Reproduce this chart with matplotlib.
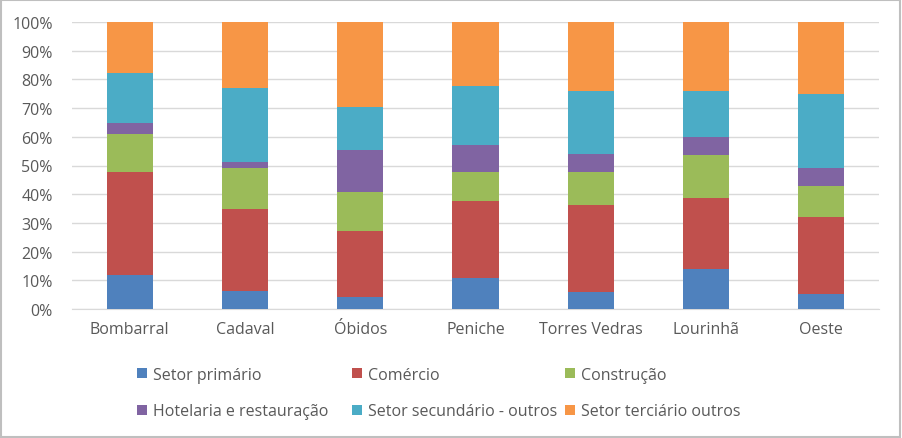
import numpy as np
import matplotlib.pyplot as plt
from matplotlib.patches import Rectangle
from matplotlib.ticker import PercentFormatter

plt.rcParams['font.family'] = ['Open Sans', 'DejaVu Sans']

# Dados (percentagens por setor)
concelhos = ['Bombarral', 'Cadaval', 'Óbidos', 'Peniche', 'Torres Vedras', 'Lourinhã', 'Oeste']
setor_primario = [11.9, 6.3, 4.3, 10.9, 6.0, 14.1, 5.3]
comercio = [36.0, 28.4, 23.0, 26.9, 30.4, 24.6, 26.8]
construcao = [13.1, 14.5, 13.5, 9.8, 11.5, 15.1, 10.8]
hotelaria = [3.9, 2.1, 14.7, 9.6, 6.2, 6.0, 6.3]
secundario_outros = [17.4, 25.8, 15.0, 20.6, 21.7, 16.0, 25.8]
terciario_outros = [17.7, 22.9, 29.5, 22.2, 24.2, 24.2, 25.0]

series = [
    ('Setor primário', setor_primario, '#4F81BD'),
    ('Comércio', comercio, '#C0504D'),
    ('Construção', construcao, '#9BBB59'),
    ('Hotelaria e restauração', hotelaria, '#8064A2'),
    ('Setor secundário - outros', secundario_outros, '#4BACC6'),
    ('Setor terciário outros', terciario_outros, '#F79646'),
]

W, H = 902, 439
fig = plt.figure(figsize=(W / 100, H / 100), dpi=100)
ax = fig.add_axes([72 / W, 1 - 310 / H, 807 / W, 287 / H])

x = np.arange(len(concelhos))
base = np.zeros(len(concelhos))
handles = []
for nome, vals, cor in series:
    vals = np.array(vals)
    b = ax.bar(x, vals, 0.4, bottom=base, color=cor, label=nome, zorder=3)
    handles.append(b)
    base += vals

ax.set_xlim(-0.5, len(concelhos) - 0.5)
ax.set_ylim(0, 100)
ax.set_yticks(np.arange(0, 101, 10))
ax.yaxis.set_major_formatter(PercentFormatter(decimals=0))
ax.set_xticks(x)
ax.set_xticklabels(concelhos)
ax.tick_params(axis='both', length=0, labelsize=11.5, colors='#595959')
ax.tick_params(axis='y', pad=14)
ax.tick_params(axis='x', pad=9)
ax.grid(axis='y', color='#d9d9d9', linewidth=1, zorder=0)
for s in ['top', 'right', 'left']:
    ax.spines[s].set_visible(False)
ax.spines['bottom'].set_color('#d9d9d9')

# legenda em 3 colunas de largura fixa (preenchida por linhas)
col_x = [137, 352, 565]
for j in range(3):
    fig.legend(handles=[handles[j], handles[j + 3]], loc='center left',
               bbox_to_anchor=(col_x[j] / W, 1 - 394 / H),
               frameon=False, fontsize=11.5, labelcolor='#595959',
               handlelength=0.6, handleheight=0.6, handletextpad=0.4,
               labelspacing=1.3, borderpad=0, borderaxespad=0)

# moldura do gráfico
fig.patches.append(Rectangle((0.001, 0.002), 0.997, 0.995, transform=fig.transFigure,
                             fill=False, edgecolor='#bfbfbf', linewidth=1.5))

fig.savefig('out.png', dpi=100)
